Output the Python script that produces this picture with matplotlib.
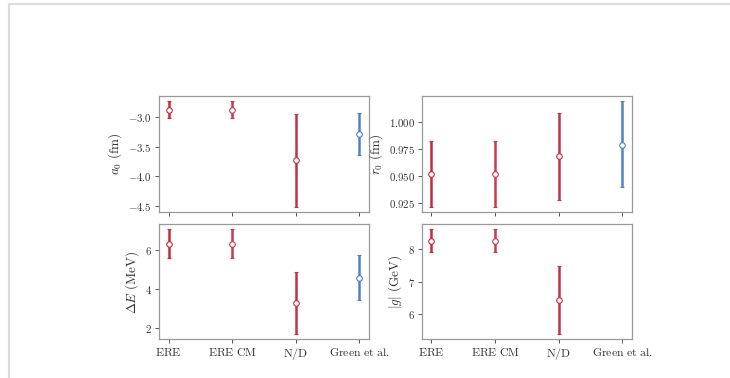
import numpy as np
import matplotlib
matplotlib.use("Agg")
import matplotlib.pyplot as plt
from matplotlib.ticker import FuncFormatter, MultipleLocator
from matplotlib.lines import Line2D

plt.rcParams["mathtext.fontset"] = "cm"

categories = ["ERE", "ERE CM", "N/D", "Green et al."]
colors = ["#c42a38", "#c63a4a", "#bd3444", "#4f82c2"]

# a0 (fm): centre, lower bound, upper bound
a0_mid = [-2.88, -2.88, -3.72, -3.29]
a0_low = [-3.02, -3.02, -4.51, -3.645]
a0_high = [-2.74, -2.74, -2.95, -2.93]

# r0 (fm)
r0_mid = [0.9525, 0.9525, 0.9688, 0.9796]
r0_low = [0.922, 0.922, 0.928, 0.940]
r0_high = [0.9827, 0.9827, 1.009, 1.0197]

# Delta E (MeV)
dE_mid = [6.32, 6.32, 3.28, 4.57]
dE_low = [5.60, 5.60, 1.66, 3.42]
dE_high = [7.08, 7.08, 4.86, 5.74]

# |g| (GeV), no value for Green et al.
g_mid = [8.26, 8.26, 6.42, np.nan]
g_low = [7.90, 7.90, 5.38, np.nan]
g_high = [8.61, 8.61, 7.48, np.nan]

# label, centre, low, high, decimals, tick step
panels = [
    (r"$a_0\ (\mathrm{fm})$", a0_mid, a0_low, a0_high, 1, 0.5),
    (r"$r_0\ (\mathrm{fm})$", r0_mid, r0_low, r0_high, 3, 0.025),
    (r"$\Delta E\ (\mathrm{MeV})$", dE_mid, dE_low, dE_high, 0, 2),
    (r"$|g|\ (\mathrm{GeV})$", g_mid, g_low, g_high, 0, 1),
]

fig = plt.figure(figsize=(7.3, 3.78), dpi=100)
boxes = [
    (0.2178, 0.4392, 0.2877, 0.307),
    (0.578, 0.4392, 0.2877, 0.307),
    (0.2178, 0.1019, 0.2877, 0.305),
    (0.578, 0.1019, 0.2877, 0.305),
]

x = np.arange(len(categories))
for i, (box, (label, mid, low, high, dec, step)) in enumerate(zip(boxes, panels)):
    ax = fig.add_axes(box)
    for j in range(len(categories)):
        if np.isnan(mid[j]):
            continue
        yerr = [[mid[j] - low[j]], [high[j] - mid[j]]]
        ax.errorbar(x[j], mid[j], yerr=yerr, fmt="o", color=colors[j],
                    ecolor=colors[j], elinewidth=1.8, capsize=1.6, capthick=1.2,
                    markersize=4, markerfacecolor="white",
                    markeredgecolor=colors[j], markeredgewidth=0.8, zorder=3)
    ax.set_xlim(-0.15, 3.15)
    ax.set_xticks(x)
    if i >= 2:
        ax.set_xticklabels([r"$\mathrm{%s}$" % c.replace(" ", r"\ ") for c in categories],
                           fontsize=8.5, color="#333333")
    else:
        ax.set_xticklabels([])
    ax.yaxis.set_major_locator(MultipleLocator(step))
    ax.yaxis.set_major_formatter(
        FuncFormatter(lambda v, p, d=dec: r"$%.*f$" % (d, v)))
    ax.set_ylabel(label, fontsize=9.5, color="#333333", labelpad=3)
    ax.tick_params(axis="y", labelsize=7.8)
    ax.tick_params(length=3, width=0.7, colors="#555555",
                   labelcolor="#333333", pad=2)
    for s in ax.spines.values():
        s.set_color("#999999")
        s.set_linewidth(0.9)

# screenshot border lines
fig.add_artist(Line2D([9 / 730, 1], [1 - 4 / 378, 1 - 4 / 378],
                      transform=fig.transFigure, color="#dcdcdc", lw=1.5))
fig.add_artist(Line2D([9 / 730, 9 / 730], [0, 1 - 4 / 378],
                      transform=fig.transFigure, color="#dcdcdc", lw=1.5))

fig.savefig("out.png", dpi=100)
